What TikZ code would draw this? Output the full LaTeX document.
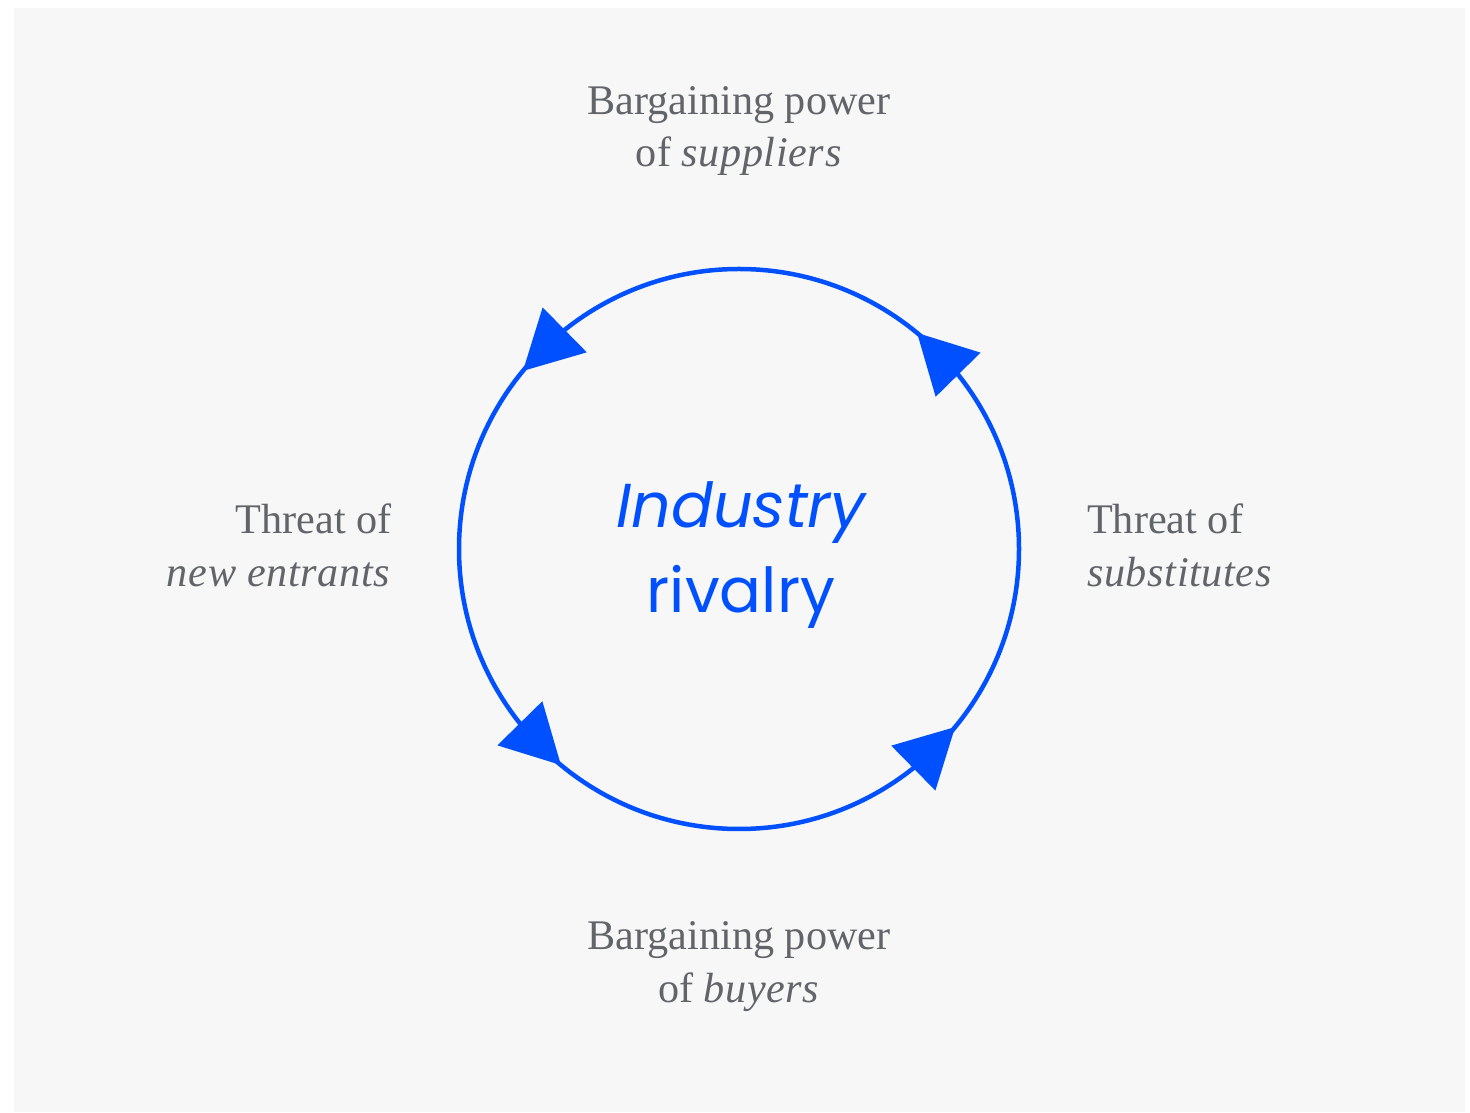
\documentclass[tikz,border=0pt]{standalone}
\usepackage{fontspec}
\setmainfont{Liberation Serif}[ItalicFeatures={LetterSpace=1.5}]
\newfontfamily\rivalfont{Poppins}
\usetikzlibrary{calc}
\definecolor{panel}{HTML}{F7F7F7}
\definecolor{cycleblue}{HTML}{0050FF}
\definecolor{forcegray}{HTML}{616469}
\begin{document}
\begin{tikzpicture}[x=1pt,y=1pt,
  force/.style={text=forcegray, font=\fontsize{42.2}{50}\selectfont, inner sep=0pt},
  rival/.style={text=cycleblue, font=\rivalfont\fontsize{62}{75}\selectfont, inner sep=0pt, anchor=base},
  ring/.style={draw=cycleblue, line width=4.5pt},
  head/.style={fill=cycleblue, draw=none}]
\useasboundingbox (0,0) rectangle (1470,1112);
\fill[panel] (14,0) rectangle (1465,1104);

% the rivalry cycle
\coordinate (c) at (739,563);
\draw[ring] (c) circle[radius=280];
\foreach \b/\nm in {38.5/ne, 128.5/nw, 218.5/sw, 308.5/se}{
  \pgfmathsetmacro{\t}{\b+12}
  \coordinate (base-\nm) at ($(c)+(\b:280)$);
  \coordinate (tip-\nm) at ($(c)+(\t:280)$);
  \fill[head] (tip-\nm) -- ($(base-\nm)!31.5pt!90:(tip-\nm)$)
    -- ($(base-\nm)!31.5pt!-90:(tip-\nm)$) -- cycle;
}

% centre label
\node[rival] (rival1) at (741,584) {\itshape Industry};
\node[rival] (rival2) at (741,499) {rivalry};

% the four forces
\node[force, anchor=base] (sup1) at (739,997) {Bargaining power};
\node[force, anchor=base] (sup2) at (739,945) {of \textit{suppliers}};
\node[force, anchor=base] (buy1) at (739,163) {Bargaining power};
\node[force, anchor=base] (buy2) at (739,110) {of \textit{buyers}};
\node[force, anchor=base east] (new1) at (392,578) {Threat of};
\node[force, anchor=base east] (new2) at (391,525) {\textit{new entrants}};
\node[force, anchor=base west] (sub1) at (1087,578) {Threat of};
\node[force, anchor=base west] (sub2) at (1087,525) {\textit{substitutes}};
\end{tikzpicture}
\end{document}
